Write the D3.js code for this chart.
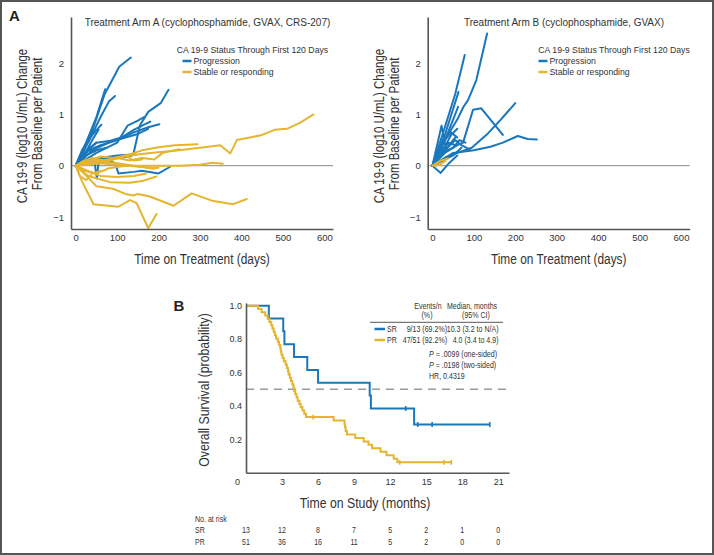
<!DOCTYPE html>
<html><head><meta charset="utf-8">
<script src="https://cdn.jsdelivr.net/npm/d3@7"></script>
<style>body{margin:0;background:#fff}</style>
</head><body>
<svg id="c" width="714" height="555"></svg>
<script>
// ---------------- DATA ----------------
const armAProgression = [
  [[0,0],[20,0.3],[45,0.8],[70,1.4],[90,1.7],[105,1.93],[133,2.11]],
  [[0,0],[25,0.45],[50,0.95],[71,1.49]],
  [[0,0],[30,0.45],[60,0.95],[80,1.25],[95,1.36]],
  [[0,0],[15,0.3],[40,0.6],[62,0.8]],
  [[0,0],[20,0.25],[50,0.45],[80,0.48],[110,0.55],[140,0.7],[165,0.8],[180,0.86]],
  [[0,0],[30,0.3],[60,0.4],[100,0.5],[140,0.65],[175,0.75],[202,0.81]],
  [[0,0],[40,0.3],[80,0.45],[120,0.55],[150,0.62],[175,0.72]],
  [[0,0],[30,0.1],[60,0.15],[100,0.2],[139,0.22],[155,0.79],[175,1.05],[205,1.22],[224,1.48]],
  [[0,0],[50,0.25],[100,0.45],[125,0.78],[150,0.88],[165,0.95]],
  [[0,0],[30,0.05],[45,0.1],[51,-0.25],[55,0.05],[80,0.1],[95,0.05],[103,-0.15],[140,-0.12],[160,-0.1],[200,-0.15],[228,-0.02]],
  [[0,0],[40,0.1],[80,0.15],[110,0.15],[145,0.22]],
  [[0,0],[20,0.2],[40,0.5],[55,0.7]],
  [[0,0],[15,0.15],[35,0.35],[50,0.45]],
  [[0,0],[25,0.2],[50,0.3],[75,0.35]],
  [[0,0],[20,0.35],[35,0.6],[45,0.7]],
  [[0,0],[10,0.15],[30,0.3],[45,0.28]]
];
const armAStable = [
  [[0,0],[30,0.05],[80,0.1],[130,0.2],[180,0.25],[250,0.3],[300,0.35],[349,0.40],[373,0.24],[389,0.5],[420,0.55],[450,0.6],[480,0.7],[510,0.72],[540,0.83],[574,1.0]],
  [[0,0],[40,0.1],[80,0.1],[100,0.15],[130,0.22],[160,0.3],[200,0.36],[240,0.4],[294,0.42]],
  [[0,0],[60,0.05],[120,0.0],[180,0.0],[250,0.0],[300,0.02],[330,0.06],[355,0.04]],
  [[0,0],[20,-0.15],[50,-0.4],[90,-0.45],[120,-0.55],[139,-0.58],[150,-0.55],[179,-0.6],[236,-0.78],[280,-0.54],[332,-0.69],[380,-0.75],[413,-0.65]],
  [[0,0],[15,-0.3],[43,-0.75],[103,-0.8],[131,-0.67],[147,-0.73],[175,-1.22],[195,-0.94]],
  [[0,0],[30,-0.2],[83,-0.32],[131,-0.33],[160,-0.3],[195,-0.21]],
  [[0,0],[30,-0.1],[60,-0.2],[100,-0.22],[140,-0.2],[170,-0.15]],
  [[0,0],[20,0.1],[40,0.15],[70,0.1],[100,0.15],[130,0.1],[160,0.15],[190,0.12],[210,0.25],[250,0.32]],
  [[0,0],[30,0.1],[60,0.08],[100,0.05],[140,0.0],[180,-0.05],[200,-0.04]],
  [[0,0],[20,-0.1],[50,-0.15],[80,-0.05],[120,0.0],[160,-0.02],[190,-0.06]],
  [[0,0],[10,-0.2],[25,-0.28],[40,-0.15],[60,-0.1]],
  [[0,0],[25,0.05],[40,0.12],[60,0.18],[90,0.15],[120,0.2],[140,0.1],[160,0.12]]
];
const armBProgression = [
  [[0,0],[30,0.5],[60,0.9],[75,1.15],[86,1.28],[106,1.67],[132,2.58]],
  [[0,0],[30,0.75],[55,1.4],[78,2.16]],
  [[0,0],[30,0.6],[63,1.44]],
  [[0,0],[30,0.15],[60,0.25],[95,0.35],[134,0.63],[165,0.9],[200,1.22]],
  [[0,0],[30,0.25],[60,0.4],[74,0.45],[98,1.09],[118,1.12],[145,0.85],[170,0.6]],
  [[0,0],[20,0.1],[50,0.25],[100,0.3],[140,0.37],[170,0.45],[206,0.58],[230,0.52],[252,0.51]],
  [[0,0],[22,0.78],[32,0.35]],
  [[0,0],[30,0.5],[50,0.9],[62,1.15]],
  [[0,0],[25,0.3],[45,0.6],[60,0.72]],
  [[0,0],[30,0.3],[55,0.5],[70,0.4],[90,0.32]],
  [[0,0],[20,-0.14],[40,0.05],[60,0.2]],
  [[0,0],[20,0.2],[40,0.4],[55,0.55]],
  [[0,0],[15,0.15],[35,0.3],[50,0.35],[65,0.5],[80,0.45]],
  [[0,0],[25,0.1],[50,0.2],[70,0.35]],
  [[0,0],[20,0.3],[40,0.45],[55,0.4]],
  [[0,0],[15,0.25],[30,0.5],[45,0.65],[60,0.55]]
];
const armBStable = [
  [[0,0],[20,0.1],[38,0.14]],
  [[5,0],[20,0.03],[32,0.1]]
];
const dayTicks = [0,100,200,300,400,500,600];
const changeTicks = [-1,0,1,2];

// Kaplan-Meier: event times (months)
const srDeaths = [1.9,3.1,3.2,4.0,5.1,6.0,10.3,10.4,14.0];
const srCensors = [13.3,14.3,15.5,20.3];
const prDeaths = [1.0,1.3,1.6,1.8,1.95,2.1,2.2,2.3,2.4,2.5,2.65,2.75,2.85,2.9,2.95,
  3.05,3.15,3.3,3.4,3.5,3.55,3.65,3.75,3.85,3.95,4.0,4.1,4.2,4.3,4.45,4.55,4.7,4.85,5.0,
  7.3,8.2,8.25,8.3,8.4, 9.1,9.8,10.2,10.5,11.2,11.7, 12.3,12.6];
const prCensors = [5.6,12.8,16.5,17.1];
const monthTicks = [0,3,6,9,12,15,18,21];
const survTicks = [0.2,0.4,0.6,0.8,1.0];
const riskGroups = ["SR","PR"];
const riskSR = [13,12,8,7,5,2,1,0];
const riskPR = [51,36,16,11,5,2,0,0];

// ---------------- STYLE ----------------
const BLUE = "#1a77bc", YELLOW = "#e5b52f", AX = "#555", TXT = "#333";
const SANS = "'Liberation Sans', Arial, Helvetica, sans-serif";
const NARROW = "'Liberation Sans Narrow', 'Arial Narrow', sans-serif";

const svg = d3.select("#c");

// detect narrow font
const probe1 = svg.append("text").attr("font-family", NARROW).attr("font-size", 20).text("Time on Study (months)");
const probe2 = svg.append("text").attr("font-family", SANS).attr("font-size", 20).text("Time on Study (months)");
const narrowOK = probe1.node().getComputedTextLength() < 0.9 * probe2.node().getComputedTextLength();
probe1.remove(); probe2.remove();

function ntext(g, x, y, str, size, anchor, opts = {}) {
  const t = g.append("text").attr("font-size", size).attr("fill", opts.fill || TXT)
    .attr("text-anchor", anchor || "start");
  if (opts.weight) t.attr("font-weight", opts.weight);
  let tr = `translate(${x},${y})`;
  if (opts.rotate) tr += ` rotate(${opts.rotate})`;
  if (narrowOK) { t.attr("font-family", NARROW); }
  else { t.attr("font-family", SANS); tr += " scale(0.82,1)"; }
  t.attr("transform", tr);
  if (opts.html) opts.html(t); else t.text(str);
  return t;
}

// outer frame
svg.append("rect").attr("x", 1).attr("y", 1).attr("width", 712).attr("height", 553)
  .attr("fill", "none").attr("stroke", "#555").attr("stroke-width", 2);

// ---------------- PANEL A ----------------
function spaghetti(cfg) {
  const g = svg.append("g");
  const x = d3.scaleLinear().domain([-11.4, 621]).range([cfg.x0, cfg.x0 + 262]);
  const y = d3.scaleLinear().domain([-1.234, 2.9]).range([229, 17]);
  // zero line
  g.append("line").attr("x1", cfg.x0).attr("x2", cfg.x0 + 262)
    .attr("y1", y(0)).attr("y2", y(0)).attr("stroke", "#8a8a8a").attr("stroke-width", 1);
  const line = d3.line().x(d => x(d[0])).y(d => y(d[1]));
  g.append("g").selectAll("path").data(cfg.prog).join("path")
    .attr("d", line).attr("fill", "none").attr("stroke", BLUE)
    .attr("stroke-width", 2).attr("stroke-linejoin", "round").attr("stroke-linecap", "round");
  g.append("g").selectAll("path").data(cfg.stable).join("path")
    .attr("d", line).attr("fill", "none").attr("stroke", YELLOW)
    .attr("stroke-width", 2).attr("stroke-linejoin", "round").attr("stroke-linecap", "round");
  // axes
  const ya = g.append("g").attr("transform", `translate(${cfg.x0},0)`)
    .call(d3.axisLeft(y).tickValues(changeTicks).tickSize(0).tickSizeOuter(0).tickPadding(7).tickFormat(d3.format("d")));
  const xa = g.append("g").attr("transform", `translate(0,229)`)
    .call(d3.axisBottom(x).tickValues(dayTicks).tickSize(0).tickSizeOuter(0).tickPadding(5));
  [ya, xa].forEach(a => {
    a.select(".domain").attr("stroke", AX).attr("stroke-width", 1.6);
    a.selectAll("text").attr("font-family", SANS).attr("font-size", 9.5).attr("fill", TXT);
  });
  // title
  g.append("text").attr("x", cfg.titleX).attr("y", 25.5).attr("text-anchor", "middle")
    .attr("font-family", SANS).attr("font-size", 10).attr("fill", TXT).text(cfg.title);
  // legend
  g.append("text").attr("x", cfg.legX).attr("y", 53).attr("font-family", SANS)
    .attr("font-size", 8.7).attr("fill", TXT).text("CA 19-9 Status Through First 120 Days");
  [["Progression", BLUE, 61], ["Stable or responding", YELLOW, 72]].forEach(([lab, col, yy]) => {
    g.append("line").attr("x1", cfg.dashX).attr("x2", cfg.dashX + 9).attr("y1", yy).attr("y2", yy)
      .attr("stroke", col).attr("stroke-width", 2.5);
    g.append("text").attr("x", cfg.dashX + 11).attr("y", yy + 3.2).attr("font-family", SANS)
      .attr("font-size", 8.7).attr("fill", TXT).text(lab);
  });
  // axis titles
  ntext(g, cfg.x0 + 131, 263.5, "Time on Treatment (days)", 14.5, "middle");
  ntext(g, cfg.x0 - 44, 126, "CA 19-9 (log10 U/mL) Change", 14, "middle", {rotate: -90});
  ntext(g, cfg.x0 - 29, 124, "From Baseline per Patient", 14, "middle", {rotate: -90});
}
spaghetti({x0: 71, prog: armAProgression, stable: armAStable,
  title: "Treatment Arm A (cyclophosphamide, GVAX, CRS-207)", titleX: 207.5, legX: 176.7, dashX: 182.5});
spaghetti({x0: 427.7, prog: armBProgression, stable: armBStable,
  title: "Treatment Arm B (cyclophosphamide, GVAX)", titleX: 564, legX: 538.3, dashX: 538.5});

svg.append("text").attr("x", 9).attr("y", 21).attr("font-family", SANS).attr("font-weight", "bold")
  .attr("font-size", 15).attr("fill", "#222").text("A");

// ---------------- PANEL B ----------------
const gb = svg.append("g");
const xk = d3.scaleLinear().domain([0, 21.9]).range([246, 509]);
const yk = d3.scaleLinear().domain([0, 1.016]).range([472.7, 303]);

function km(deaths, censors, n) {
  const ev = deaths.map(t => ({t, d: 1})).concat(censors.map(t => ({t, d: 0})))
    .sort((a, b) => a.t - b.t || b.d - a.d);
  let s = 1, r = n; const steps = [[0, 1]]; const cens = [];
  ev.forEach(e => {
    if (e.d) { steps.push([e.t, s]); s = s * (r - 1) / r; steps.push([e.t, s]); }
    else cens.push([e.t, s]);
    r -= 1;
  });
  const last = d3.max(ev, e => e.t);
  steps.push([last, s]);
  return {steps, cens};
}
const kmSR = km(srDeaths, srCensors, 13);
const kmPR = km(prDeaths, prCensors, 51);

// dashed median line
gb.append("line").attr("x1", 246).attr("x2", 509).attr("y1", yk(0.5)).attr("y2", yk(0.5))
  .attr("stroke", "#9a9a9a").attr("stroke-width", 1.4).attr("stroke-dasharray", "8,6");

const kline = d3.line().x(d => xk(d[0])).y(d => yk(d[1]));
[[kmSR, BLUE], [kmPR, YELLOW]].forEach(([k, col]) => {
  gb.append("path").attr("d", kline(k.steps)).attr("fill", "none").attr("stroke", col).attr("stroke-width", 2);
  gb.selectAll(null).data(k.cens).join("line")
    .attr("x1", d => xk(d[0])).attr("x2", d => xk(d[0]))
    .attr("y1", d => yk(d[1]) - 2.5).attr("y2", d => yk(d[1]) + 2.5)
    .attr("stroke", col).attr("stroke-width", 1.6);
});

const yka = gb.append("g").attr("transform", "translate(246,0)")
  .call(d3.axisLeft(yk).tickValues(survTicks).tickSize(0).tickSizeOuter(0).tickPadding(4).tickFormat(d3.format(".1f")));
const xka = gb.append("g").attr("transform", "translate(0,472.7)")
  .call(d3.axisBottom(xk).tickValues(monthTicks).tickSize(0).tickSizeOuter(0).tickPadding(6));
[yka, xka].forEach(a => {
  a.select(".domain").attr("stroke", AX).attr("stroke-width", 1.6);
  a.selectAll("text").attr("font-family", narrowOK ? NARROW : SANS)
    .attr("font-size", narrowOK ? 10.5 : 9).attr("fill", TXT);
});
xka.selectAll(".tick").filter(d => d === 0).select("text").attr("x", -9);

ntext(gb, 365, 508, "Time on Study (months)", 15, "middle");
ntext(gb, 209, 390, "Overall Survival (probability)", 15, "middle", {rotate: -90});
svg.append("text").attr("x", 173.5).attr("y", 310.5).attr("font-family", SANS).attr("font-weight", "bold")
  .attr("font-size", 15).attr("fill", "#222").text("B");

// legend table
const fs = 8.6;
ntext(gb, 428, 308.5, "Events/n", fs, "middle");
ntext(gb, 427, 318, "(%)", fs, "middle");
ntext(gb, 472, 308.5, "Median, months", fs, "middle");
ntext(gb, 476, 318, "(95% CI)", fs, "middle");
gb.append("line").attr("x1", 370).attr("x2", 503).attr("y1", 322.3).attr("y2", 322.3)
  .attr("stroke", "#444").attr("stroke-width", 0.9);
const legRows = [["SR", BLUE, 329, "9/13 (69.2%)", "10.3 (3.2 to N/A)"],
                 ["PR", YELLOW, 340, "47/51 (92.2%)", "4.0 (3.4 to 4.9)"]];
legRows.forEach(([lab, col, yy, ev, med]) => {
  gb.append("line").attr("x1", 374.5).attr("x2", 385).attr("y1", yy).attr("y2", yy)
    .attr("stroke", col).attr("stroke-width", 2.5);
  ntext(gb, 387, yy + 3, lab, fs, "start");
  ntext(gb, 447, yy + 3, ev, fs, "end");
  ntext(gb, 498.5, yy + 3, med, fs, "end");
});
ntext(gb, 429, 357.3, "", fs, "start", {html: t => {
  t.append("tspan").attr("font-style", "italic").text("P");
  t.append("tspan").text(" = .0099 (one-sided)");
}});
ntext(gb, 429, 368.3, "", fs, "start", {html: t => {
  t.append("tspan").attr("font-style", "italic").text("P");
  t.append("tspan").text(" = .0198 (two-sided)");
}});
ntext(gb, 429, 379.3, "HR, 0.4319", fs, "start");

// number at risk
const riskX = d => xk(d);
ntext(gb, 195, 522, "No. at risk", fs, "start");
[[riskSR, 533], [riskPR, 544.5]].forEach(([vals, yy], i) => {
  ntext(gb, 195, yy, riskGroups[i], fs, "start");
  vals.forEach((v, j) => ntext(gb, riskX(monthTicks[j]), yy, String(v), fs, "middle"));
});
</script>
</body></html>
